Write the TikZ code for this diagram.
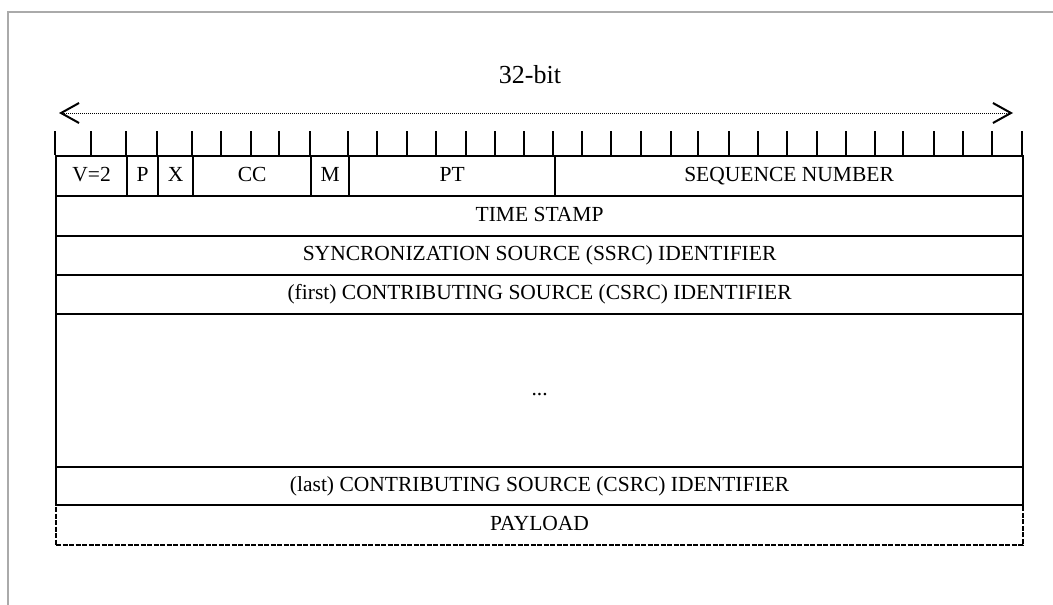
\documentclass[tikz,border=0pt]{standalone}
\usepackage{fontspec}
\setmainfont{Liberation Serif}
\usetikzlibrary{arrows.meta}
\definecolor{framegray}{RGB}{170,170,170}
\begin{document}
\begin{tikzpicture}[x=1pt,y=-1pt,
  cell/.style={draw, line width=2.2pt, anchor=north west, inner sep=0pt, text height=14pt, text depth=4pt, font=\fontsize{21.5}{25}\selectfont},
  paycell/.style={cell, dash pattern=on 5pt off 1.5pt},
  tick/.style={line width=2.2pt},
  span/.style={line width=0.9pt, dash pattern=on 1pt off 1pt, {Straight Barb[length=18pt,width=20pt,line width=2pt]}-{Straight Barb[length=18pt,width=20pt,line width=2pt]}},
  title/.style={font=\fontsize{26}{30}\selectfont, inner sep=0pt}]
\useasboundingbox (0,0) rectangle (1053,605);
\draw[framegray, line width=2pt] (8,606) -- (8,12) -- (1054,12);
% title and span arrow
\node[title] (title) at (530,75) {32-bit};
\coordinate (al) at (59,113);
\coordinate (ar) at (1013,113);
\draw[span] (al) -- (ar);
% bit ticks
\foreach \x in {55,91,126,157,192,221,251,279,310,348,377,407,436,466,495,524,553,582,611,641,671,698,729,758,787,817,846,875,903,934,963,992,1022}
  \draw[tick] (\x,131) -- (\x,155);
% first row
\foreach \n/\a/\b/\t in {v/55/126/{V=2}, p/126/157/P, xb/157/192/X, cc/192/310/CC, m/310/348/M, pt/348/554/PT, seq/554/1022/{SEQUENCE NUMBER}}
  \node[cell, minimum width={(\b-\a)*1pt}, minimum height=40pt] (\n) at (\a,155) {\t};
% full rows
\node[paycell, minimum width=967pt, minimum height=40pt] (payload) at (55,504) {PAYLOAD};
\foreach \n/\c/\d/\t in {ts/195/235/{TIME STAMP}, ssrc/235/274/{SYNCRONIZATION SOURCE (SSRC) IDENTIFIER}, first/274/313/{(first) CONTRIBUTING SOURCE (CSRC) IDENTIFIER}, dots/313/466/{...}, last/466/504/{(last) CONTRIBUTING SOURCE (CSRC) IDENTIFIER}}
  \node[cell, minimum width=967pt, minimum height={(\d-\c)*1pt}] (\n) at (55,\c) {\t};
\end{tikzpicture}
\end{document}
